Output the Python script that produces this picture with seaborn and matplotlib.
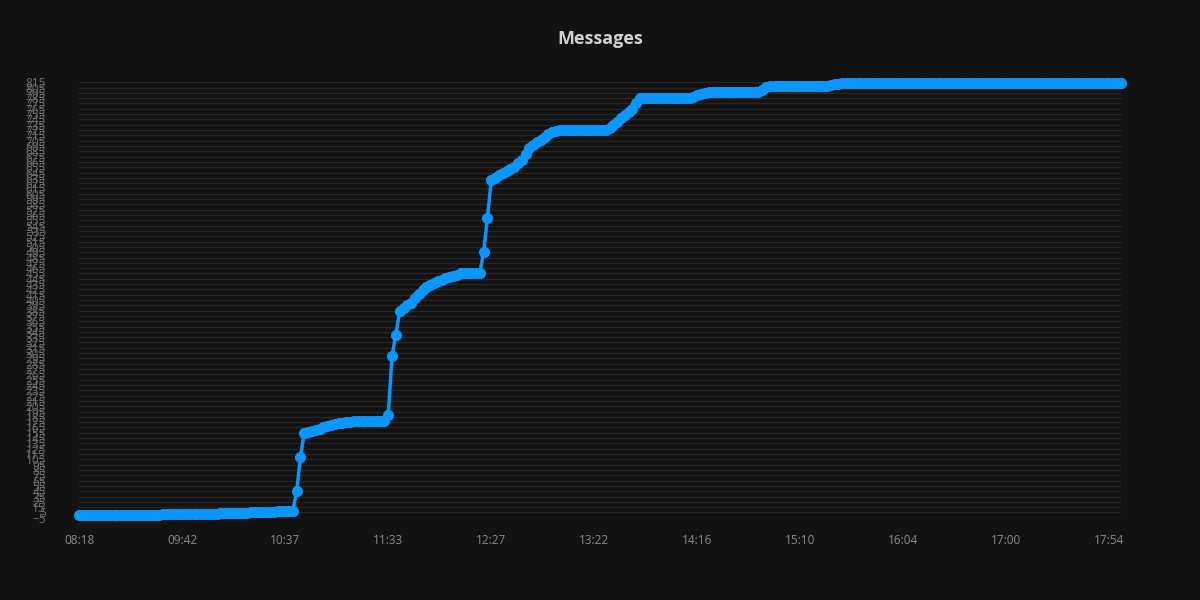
import matplotlib
matplotlib.use("Agg")
import matplotlib.pyplot as plt
import numpy as np
import pandas as pd
import seaborn as sns

# x tick labels (shown every 27 samples on a category axis)
tickLabels = ["08:18", "09:42", "10:37", "11:33", "12:27", "13:22",
              "14:16", "15:10", "16:04", "17:00", "17:54"]
tickStep = 27

# cumulative message count, one value per sample
messages = [
    0, 0, 0, 0, 0, 0, 0, 0, 0, 0, 0, 0, 0, 0, 0, 0, 0, 0, 0, 0,
    1, 1, 2, 2, 3, 3, 3, 3, 3, 3, 3, 3, 3, 3, 3, 3, 3, 4, 4, 4,
    4, 4, 4, 4, 4, 5, 5, 5, 5, 5, 6, 6, 7, 7, 7, 8, 8, 45, 110, 155,
    157, 159, 161, 163, 166, 168, 170, 172, 173, 174, 175, 176, 177, 177, 177, 177, 177, 177, 177, 177,
    177, 189, 300, 340, 384, 390, 395, 399, 408, 416, 423, 429, 433, 437, 440, 443, 446, 449, 451, 453,
    455, 455, 455, 455, 455, 455, 495, 560, 631, 635, 640, 644, 648, 651, 655, 662, 668, 680, 691, 697,
    702, 706, 712, 717, 721, 724, 725, 725, 725, 725, 725, 725, 725, 725, 725, 725, 725, 725, 725, 729,
    734, 741, 747, 753, 758, 764, 776, 785, 785, 785, 785, 785, 785, 785, 785, 785, 785, 785, 785, 785,
    785, 788, 790, 792, 794, 796, 796, 796, 796, 796, 796, 796, 796, 796, 796, 796, 796, 796, 796, 801,
    806, 807, 807, 807, 807, 807, 807, 807, 807, 807, 807, 807, 807, 807, 807, 808, 808, 810, 811, 812,
    813, 814, 814, 814, 814, 814, 814, 814, 814, 814, 814, 814, 814, 814, 814, 814, 814, 814, 814, 814,
    814, 814, 814, 814, 814, 814, 814, 814, 814, 814, 814, 814, 814, 814, 814, 814, 814, 814, 814, 814,
    814, 814, 814, 814, 814, 814, 814, 814, 814, 814, 814, 814, 814, 814, 814, 814, 814, 814, 814, 814,
    814, 814, 814, 814, 814, 814, 814, 814, 814, 814, 814, 814, 814, 814,
]

yMin, yMax, yStep = -5, 815, 10

bg = "#121212"
lineColor = "#0a96fa"

sns.set_style("dark", {"axes.facecolor": bg, "figure.facecolor": bg})
plt.rcParams["font.family"] = ["Open Sans", "DejaVu Sans"]

df = pd.DataFrame({"sample": np.arange(len(messages)), "messages": messages})

fig = plt.figure(figsize=(12, 6), dpi=100)
ax = fig.add_axes([0.066, 0.137, 0.868, 0.726])

sns.lineplot(data=df, x="sample", y="messages", ax=ax, color=lineColor,
             linewidth=2.5, marker="o", markersize=8, markeredgewidth=0,
             clip_on=False, zorder=3)

ax.set_xlim(0, len(messages) - 1)
ax.set_ylim(yMin, yMax)

ax.set_xticks(range(0, tickStep * len(tickLabels), tickStep))
ax.set_xticklabels(tickLabels)
ax.set_yticks(range(yMin, yMax + 1, yStep))

ax.tick_params(axis="x", colors="#8a8a8a", labelsize=8.5, length=0, pad=12)
ax.tick_params(axis="y", colors="#6f6f6f", labelsize=8.5, length=0, pad=24)

ax.grid(False)
ax.yaxis.grid(True, color="#262626", linewidth=1)
for s in ax.spines.values():
    s.set_visible(False)

ax.set_xlabel("")
ax.set_ylabel("")
fig.suptitle("Messages", y=0.95, color="#d2d2d2", fontsize=13, fontweight="bold")

fig.savefig("out.png", dpi=100, facecolor=bg)
